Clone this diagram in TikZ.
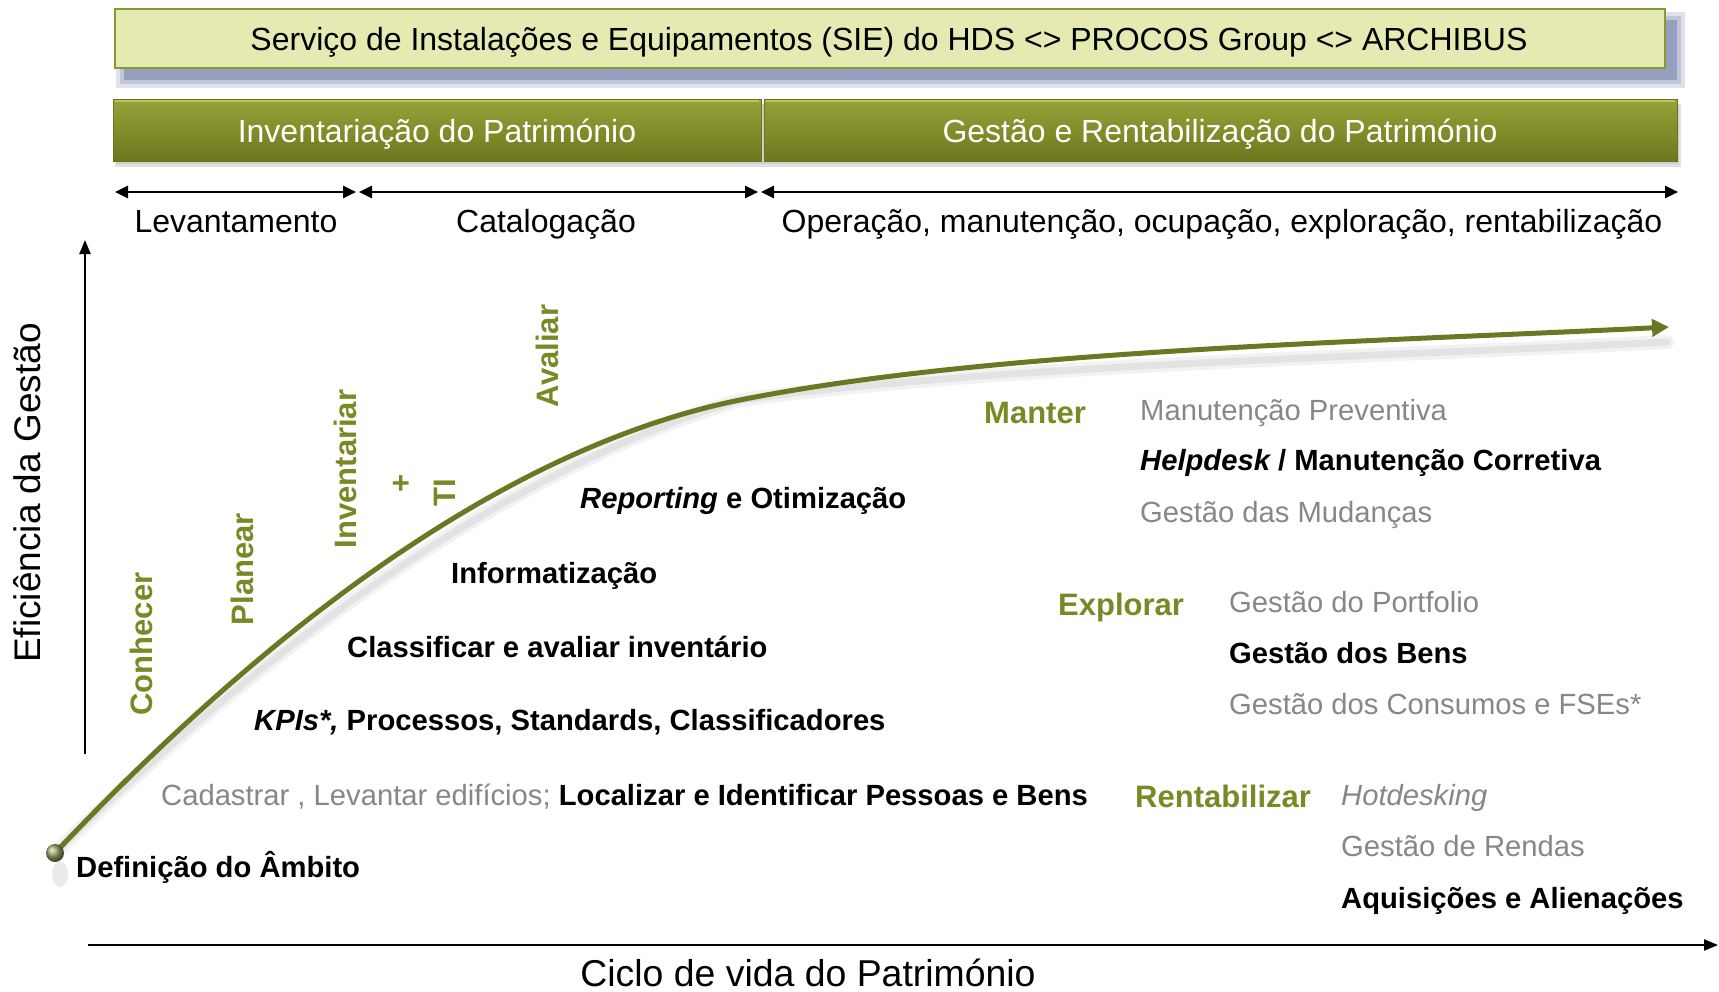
\documentclass[tikz,border=0pt]{standalone}
\usepackage{fontspec}
\setmainfont{Liberation Sans}
\usetikzlibrary{arrows.meta}
\definecolor{olivetxt}{RGB}{122,136,38}
\definecolor{graytxt}{RGB}{135,135,135}
\definecolor{boxfill}{RGB}{228,234,178}
\definecolor{boxedge}{RGB}{140,150,50}
\definecolor{barmid}{RGB}{130,141,42}
\definecolor{bartop}{RGB}{150,162,58}
\definecolor{barbot}{RGB}{108,118,30}
\definecolor{barhi}{RGB}{188,198,95}
\definecolor{curvecol}{RGB}{105,120,35}
\definecolor{shadowblue}{RGB}{150,160,190}
\newcommand{\fsz}[1]{\fontsize{#1}{#1}\selectfont}
\begin{document}
\begin{tikzpicture}[x=1pt,y=-1pt,
  hdr/.style={font=\fsz{32}, inner sep=0pt, anchor=base},
  lbl/.style={font=\fsz{29.2}\bfseries, inner sep=0pt, anchor=base west},
  glbl/.style={font=\fsz{29.2}, text=graytxt, inner sep=0pt, anchor=base west},
  grn/.style={font=\fsz{31}\bfseries, text=olivetxt, inner sep=0pt, anchor=base west},
  vgrn/.style={font=\fsz{31}\bfseries, text=olivetxt, inner sep=0pt, rotate=90, anchor=base},
  spanarrow/.style={line width=2.6pt, {Triangle[length=13pt,width=12pt]}-{Triangle[length=13pt,width=12pt]}},
  axisarrow/.style={line width=2.2pt, -{Triangle[length=14pt,width=11pt]}},
  barbox/.style={top color=bartop, bottom color=barbot, middle color=barmid, draw=barbot, line width=0.8pt, inner sep=0pt, anchor=north west}
]
\useasboundingbox (0,0) rectangle (1719,991);
\fill[white] (0,0) rectangle (1719,991);

% top box shadow
\fill[shadowblue!30] (116,12) rectangle (1685,88);
\fill[shadowblue!60] (120,16) rectangle (1681,84);
\fill[shadowblue] (124,20) rectangle (1677,80);
\node (topbox) [draw=boxedge, fill=boxfill, line width=1.5pt, minimum width=1550pt, minimum height=59pt, inner sep=0pt, anchor=north west] at (114,8) {};
\node[hdr] (toptext) at (889,50) {Serviço de Instalações e Equipamentos (SIE) do HDS <> PROCOS Group <> ARCHIBUS};

% green bars
\fill[black!12] (115,104) rectangle (1681,167);
\fill[black!20] (116,104) rectangle (1679,164);
\node (bar1) [barbox, minimum width=648pt, minimum height=62pt] at (113,99) {};
\node (bar2) [barbox, minimum width=913pt, minimum height=62pt] at (764,99) {};
\draw[barhi, line width=2pt] (115,101) -- (759,101);
\draw[barhi, line width=2pt] (766,101) -- (1675,101);
\node[hdr, text=white] (bar1text) at (437,142) {Inventariação do Património};
\node[hdr, text=white] (bar2text) at (1220,142) {Gestão e Rentabilização do Património};

% span arrows
\coordinate (s0) at (115,192);
\coordinate (s1l) at (356,192);
\coordinate (s1r) at (359,192);
\coordinate (s2l) at (758,192);
\coordinate (s2r) at (761,192);
\coordinate (s3) at (1678,192);
\draw[spanarrow] (s0) -- (s1l);
\draw[spanarrow] (s1r) -- (s2l);
\draw[spanarrow] (s2r) -- (s3);
\node[hdr] (lev) at (236,232) {Levantamento};
\node[hdr] (cat) at (546,232) {Catalogação};
\node[hdr] (ope) at (1222,232) {Operação, manutenção, ocupação, exploração, rentabilização};

% axes
\coordinate (yo) at (85,754);
\coordinate (yt) at (85,240);
\coordinate (xo) at (88,945);
\coordinate (xt) at (1718,945);
\draw[axisarrow] (yo) -- (yt);
\draw[axisarrow] (xo) -- (xt);
\node[font=\fsz{37}, inner sep=0pt, rotate=90, anchor=base] (ytitle) at (40,493) {Eficiência da Gestão};
\node[font=\fsz{37.4}, inner sep=0pt, anchor=base] (xtitle) at (808,986) {Ciclo de vida do Património};

% curve geometry
\coordinate (c0) at (55,853);
\coordinate (c1) at (740,400);
\coordinate (c2) at (1669,327);
% curve shadow
\fill[black!8] (60,874) ellipse (8pt and 13pt);
\begin{scope}[shift={(7,15)}]
\draw[black!5, line width=14pt, line cap=round] (c0) .. controls (330,562) and (560,436) .. (c1) .. controls (990,350) and (1369,342) .. (1660,327);
\draw[black!11, line width=7pt, line cap=round] (c0) .. controls (330,562) and (560,436) .. (c1) .. controls (990,350) and (1369,342) .. (1660,327);
\end{scope}
% curve
\draw[curvecol, line width=5pt, -{Triangle[length=17pt,width=17pt]}] (c0) .. controls (330,562) and (560,436) .. (c1) .. controls (990,350) and (1369,342) .. (c2);
\shade[ball color=curvecol!70!white] (c0) circle (9pt);

% rotated green labels
\node[vgrn] (con) at (152,644) {Conhecer};
\node[vgrn] (pla) at (253,569) {Planear};
\node[vgrn] (inv) at (356,469) {Inventariar};
\node[vgrn] (plus) at (411,483) {+};
\node[vgrn] (ti) at (455,493) {TI};
\node[vgrn] (ava) at (558,356) {Avaliar};

% left labels
\node[lbl] (rep) at (580,508) {\itshape Reporting\upshape{} e Otimização};
\node[lbl] (infz) at (451,583) {Informatização};
\node[lbl] (cla) at (347,657) {Classificar e avaliar inventário};
\node[lbl] (kpi) at (254,730) {\itshape KPIs*,\upshape{} Processos, Standards, Classificadores};
\node[glbl] (cad) at (161,805) {Cadastrar , Levantar edifícios; \textcolor{black}{\bfseries Localizar e Identificar Pessoas e Bens}};
\node[lbl] (defi) at (76,877) {Definição do Âmbito};

% right labels
\node[grn] (man) at (984,423) {Manter};
\node[glbl] (mp) at (1140,420) {Manutenção Preventiva};
\node[lbl] (hd) at (1140,470) {\itshape Helpdesk\upshape{} / Manutenção Corretiva};
\node[glbl] (gm) at (1140,522) {Gestão das Mudanças};
\node[grn] (expl) at (1058,615) {Explorar};
\node[glbl] (gp) at (1229,612) {Gestão do Portfolio};
\node[lbl] (gb) at (1229,663) {Gestão dos Bens};
\node[glbl] (gc) at (1229,714) {Gestão dos Consumos e FSEs*};
\node[grn] (ren) at (1135,807) {Rentabilizar};
\node[glbl] (hot) at (1341,805) {\itshape Hotdesking};
\node[glbl] (gr) at (1341,856) {Gestão de Rendas};
\node[lbl] (aq) at (1341,908) {Aquisições e Alienações};
\end{tikzpicture}
\end{document}
